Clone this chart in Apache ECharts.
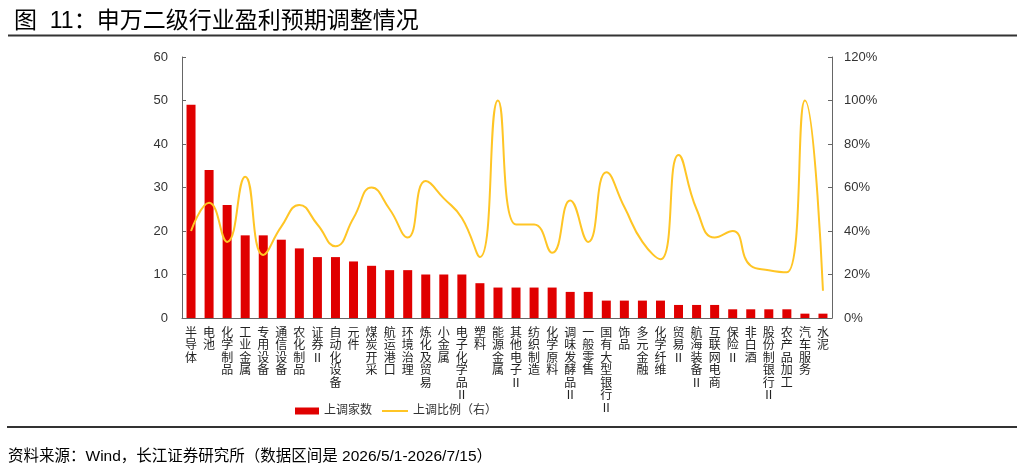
<!DOCTYPE html>
<html>
<head>
<meta charset="utf-8">
<script src="https://cdn.jsdelivr.net/npm/echarts@6/dist/echarts.min.js"></script>
<style>
  html, body { margin: 0; padding: 0; background: #fff; }
  #main { width: 1022px; height: 474px; }
</style>
</head>
<body>
<div id="main"></div>
<script>
var categories = ['半导体', '电池', '化学制品', '工业金属', '专用设备', '通信设备', '农化制品', '证券Ⅱ', '自动化设备', '元件',
    '煤炭开采', '航运港口', '环境治理', '炼化及贸易', '小金属', '电子化学品Ⅱ', '塑料', '能源金属', '其他电子Ⅱ', '纺织制造',
    '化学原料', '调味发酵品Ⅱ', '一般零售', '国有大型银行Ⅱ', '饰品', '多元金融', '化学纤维', '贸易Ⅱ', '航海装备Ⅱ', '互联网电商',
    '保险Ⅱ', '非白酒', '股份制银行Ⅱ', '农产品加工', '汽车服务', '水泥'];
var upCount = [49, 34, 26, 19, 19, 18, 16, 14, 14, 13, 12, 11, 11, 10, 10, 10, 8, 7, 7, 7,
    7, 6, 6, 4, 4, 4, 4, 3, 3, 3, 2, 2, 2, 2, 1, 1];
var upRatio = [40, 53, 35, 65, 29, 42, 52, 43, 33, 46, 60, 50, 37, 63, 55, 46, 28, 100, 43, 43,
    30, 54, 35, 67, 51, 35, 27, 75, 50, 37, 40, 24, 22, 21, 100, 12.5];
var leftTicks = [0, 60, 10];
var rightTicks = [0, 120, 20];

var fontCn = 'Liberation Sans, Noto Sans CJK SC, sans-serif';
var chart = echarts.init(document.getElementById('main'));
var option = {
    animation: false,
    textStyle: { fontFamily: fontCn },
    title: {
        text: '图  11：申万二级行业盈利预期调整情况',
        left: 9,
        top: 5,
        textStyle: { fontSize: 23, fontWeight: 'normal', color: '#000', fontFamily: fontCn }
    },
    graphic: [
        { type: 'line', shape: { x1: 8, y1: 35.5, x2: 1017, y2: 35.5 }, style: { stroke: '#333', lineWidth: 2 } },
        { type: 'line', shape: { x1: 7, y1: 427, x2: 1017, y2: 427 }, style: { stroke: '#333', lineWidth: 2 } },
        {
            type: 'text', left: 8, top: 449,
            style: { text: '资料来源：Wind，长江证券研究所（数据区间是 2026/5/1-2026/7/15）', fontSize: 15.5, fill: '#000', fontFamily: fontCn }
        }
    ],
    legend: [{
        left: 290,
        top: 400,
        itemWidth: 24,
        itemHeight: 7,
        textStyle: { fontSize: 12, color: '#333' },
        data: [{ name: '上调家数', icon: 'rect' }]
    }, {
        left: 377,
        top: 400,
        itemWidth: 26,
        itemHeight: 2,
        textStyle: { fontSize: 12, color: '#333' },
        data: [{ name: '上调比例（右）', icon: 'rect' }]
    }],
    grid: { left: 182, right: 190, top: 57, bottom: 156 },
    xAxis: {
        type: 'category',
        data: categories,
        axisLine: { lineStyle: { color: '#666' } },
        axisTick: { inside: true, length: 4, lineStyle: { color: '#666' } },
        axisLabel: {
            interval: 0,
            margin: 8,
            fontSize: 12,
            lineHeight: 12.5,
            color: '#222',
            fontFamily: 'Noto Sans CJK SC, sans-serif',
            formatter: function (v) { return v.split('').join('\n'); }
        }
    },
    yAxis: [{
        type: 'value',
        min: leftTicks[0],
        max: leftTicks[1],
        interval: leftTicks[2],
        splitLine: { show: false },
        axisLine: { show: true, lineStyle: { color: '#666' } },
        axisTick: { show: true, inside: true, length: 4, lineStyle: { color: '#666' } },
        axisLabel: { fontSize: 13, color: '#333', margin: 14 }
    }, {
        type: 'value',
        min: rightTicks[0],
        max: rightTicks[1],
        interval: rightTicks[2],
        splitLine: { show: false },
        axisLine: { show: true, lineStyle: { color: '#666' } },
        axisTick: { show: true, inside: true, length: 4, lineStyle: { color: '#666' } },
        axisLabel: { fontSize: 13, color: '#333', margin: 12, formatter: '{value}%' }
    }],
    series: [{
        name: '上调家数',
        type: 'bar',
        data: upCount,
        barWidth: 9,
        itemStyle: { color: '#E00000' }
    }, {
        name: '上调比例（右）',
        type: 'line',
        yAxisIndex: 1,
        data: upRatio,
        smooth: 0.5,
        symbol: 'none',
        lineStyle: { color: '#FFC525', width: 2 },
        itemStyle: { color: '#FFC525' }
    }]
};
chart.setOption(option);
</script>
</body>
</html>
